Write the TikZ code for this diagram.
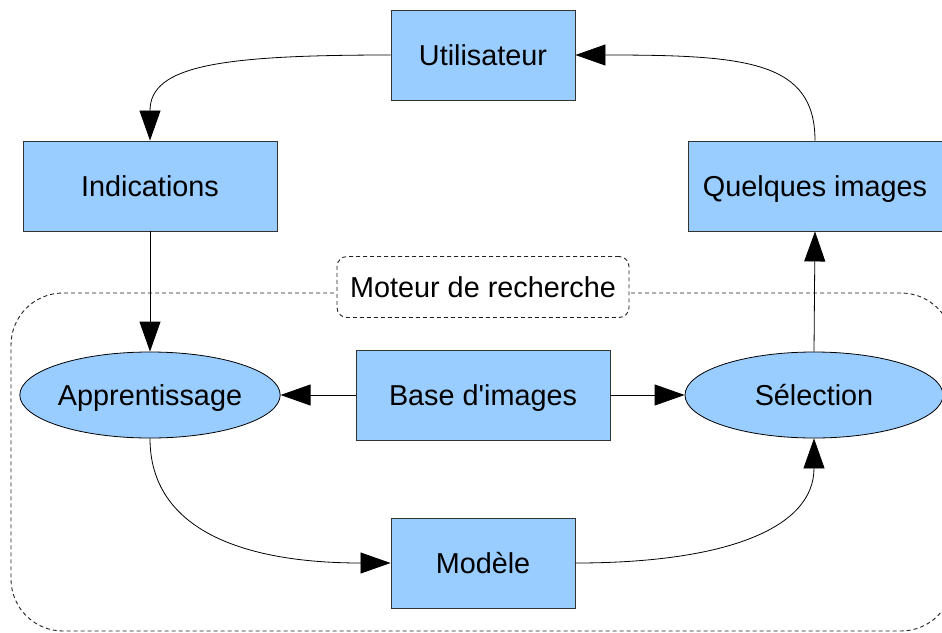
\documentclass[tikz,border=0pt]{standalone}
\usepackage{fontspec}
\setmainfont{Liberation Sans}[Ligatures=TeXOff]
\usetikzlibrary{arrows.meta,shapes.geometric}
\definecolor{boxblue}{HTML}{99CCFF}
\definecolor{edgegray}{HTML}{333333}
\definecolor{dashgray}{HTML}{222222}
\begin{document}
\begin{tikzpicture}[x=1pt,y=-1pt,
  lbl/.style={font=\fontsize{28.8}{33}\selectfont, text height=20.6pt, text depth=0pt},
  box/.style={lbl, draw=edgegray, fill=boxblue, line width=0.9pt, minimum width=#1, minimum height=90pt, inner sep=0pt},
  box/.default=184pt,
  oval/.style={lbl, ellipse, draw=black, fill=boxblue, line width=0.8pt, minimum width=258pt, minimum height=86pt, inner sep=0pt},
  dashbox/.style={draw=dashgray, dash pattern=on 4pt off 3pt, line width=0.9pt},
  conn/.style={draw=black, line width=0.8pt, -{Triangle[length=30pt,width=21pt]}}
]
\useasboundingbox (0,0) rectangle (942,632);
\clip (0,0) rectangle (942,632);

% search engine frame
\node[dashbox, rounded corners=52pt, minimum width=942pt, minimum height=338pt, inner sep=0pt] (engine) at (482,462) {};
\node[dashbox, lbl, rounded corners=10pt, fill=white, minimum width=292pt, minimum height=61pt, inner sep=0pt] (moteur) at (483,287) {Moteur de recherche};

% nodes
\node[box] (user) at (483,55) {Utilisateur};
\node[box=254pt] (ind) at (150,186) {Indications};
\node[box=254pt] (quel) at (815,186) {Quelques images};
\node[oval] (app) at (150,395) {Apprentissage};
\node[box=254pt] (base) at (483,395) {Base d'images};
\node[oval] (sel) at (814,395) {Sélection};
\node[box] (mod) at (483,563) {Modèle};

% connectors
\draw[conn] (user.west) .. controls +(-170,0) and +(0,-75) .. (ind.north);
\draw[conn] (quel.north) .. controls +(0,-80) and +(170,0) .. (user.east);
\draw[conn] (ind.south) -- (app.north);
\draw[conn] (base.west) -- (app.east);
\draw[conn] (base.east) -- (sel.west);
\draw[conn] (sel.north) -- (quel.south);
\draw[conn] (app.south) .. controls +(0,90) and +(-150,0) .. (mod.west);
\draw[conn] (mod.east) .. controls +(150,0) and +(0,90) .. (sel.south);
\end{tikzpicture}
\end{document}
